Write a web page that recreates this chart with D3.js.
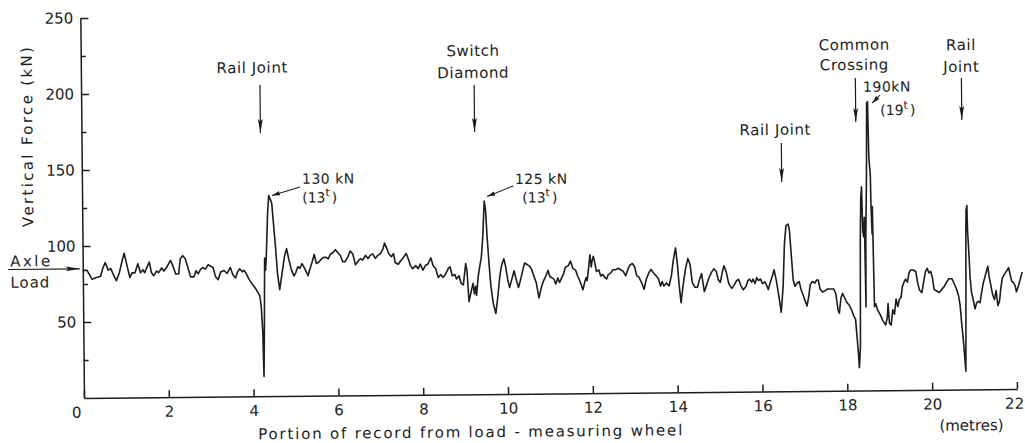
<!DOCTYPE html>
<html>
<head>
<meta charset="utf-8">
<script src="https://cdn.jsdelivr.net/npm/d3@7"></script>
<style>
  body { margin: 0; background: #fff; }
  svg { display: block; font-family: "DejaVu Sans", sans-serif; }
</style>
</head>
<body>
<svg id="chart" width="1025" height="443"></svg>
<script>
// distance along the track (m) and vertical wheel force (kN)
const record = [
  [0,84],[0.10,84],[0.22,78],[0.30,79],[0.42,80],[0.47,85],[0.53,89],[0.60,84],[0.66,85],[0.72,81],
  [0.79,77],[0.86,82],[0.93,90],[0.98,95],[1.05,86],[1.11,79],[1.16,82],[1.23,82],[1.30,88],[1.36,82],
  [1.42,84],[1.46,82],[1.52,86],[1.57,89],[1.62,82],[1.67,80],[1.74,83],[1.79,82],[1.86,85],[1.91,83],
  [1.97,85],[2.01,87],[2.07,90],[2.13,86],[2.19,81],[2.26,81],[2.30,91],[2.36,93],[2.42,91],[2.48,85],
  [2.54,79],[2.62,79],[2.67,83],[2.72,81],[2.78,84],[2.83,85],[2.89,84],[2.96,87],[3.01,86],[3.07,85],
  [3.13,79],[3.19,77],[3.25,82],[3.33,83],[3.40,81],[3.48,85],[3.54,80],[3.60,78],[3.65,82],[3.70,84],
  [3.76,82],[3.80,83],
  [3.85,81],[3.92,77],[3.99,74],[4.07,71],[4.13,68],[4.17,66],[4.20,59],[4.23,43],[4.25,13],[4.27,46],
  [4.29,91],[4.31,83],[4.33,92],[4.37,120],[4.40,132],[4.43,130],[4.47,127],[4.50,116],[4.55,98],[4.59,81],
  [4.64,70],[4.70,81],[4.76,92],[4.81,97],[4.86,90],[4.92,83],[4.98,79],[5.02,81],[5.07,85],[5.12,84],
  [5.17,87],[5.23,84],[5.31,79],[5.35,83],[5.41,88],[5.46,93],[5.51,87],[5.57,88],[5.63,90],[5.68,91],
  [5.74,91],[5.79,90],[5.84,93],[5.90,94],[5.96,96],[6.02,94],[6.08,92],[6.13,88],[6.19,88],[6.25,91],
  [6.31,95],[6.37,93],[6.43,86],[6.49,88],[6.55,90],[6.60,89],[6.67,92],[6.73,90],[6.78,92],[6.84,93],
  [6.90,90],[6.96,92],[7.02,93],[7.08,96],[7.12,100],[7.18,96],[7.22,93],[7.28,91],[7.33,93],[7.37,87],
  [7.44,86],[7.49,88],[7.55,90],
  [7.63,93],[7.67,90],[7.73,85],[7.78,83],[7.85,85],[7.91,83],[7.96,86],[8.02,82],[8.08,85],[8.14,86],
  [8.21,90],[8.26,85],[8.32,83],[8.38,77],[8.44,79],[8.49,77],[8.55,79],[8.62,83],[8.66,84],[8.71,78],
  [8.77,79],[8.81,76],[8.87,78],[8.92,73],[8.97,72],[9.03,86],[9.06,81],[9.10,61],[9.14,66],[9.20,73],
  [9.23,66],[9.26,71],[9.28,65],[9.32,77],[9.36,84],[9.40,90],[9.44,104],[9.48,127],[9.51,121],[9.54,104],
  [9.58,86],[9.62,71],[9.67,60],[9.73,53],[9.78,64],[9.83,77],[9.87,84],[9.93,89],[9.97,84],[10.02,75],
  [10.06,70],[10.11,75],[10.17,81],[10.22,75],[10.27,70],[10.32,75],[10.38,82],[10.42,86],[10.48,85],[10.53,84],
  [10.58,82],[10.64,77],[10.69,73],[10.75,63],[10.81,70],[10.86,74],[10.91,77],[10.97,81],[11.01,77],[11.07,76],
  [11.11,75],[11.15,72],[11.20,76],[11.24,73],[11.29,76],[11.34,79],
  [11.38,83],[11.45,84],[11.50,87],[11.56,82],[11.62,81],[11.67,77],[11.73,73],[11.79,68],[11.84,74],[11.87,76],
  [11.89,74],[11.93,83],[11.96,91],[11.99,83],[12.01,87],[12.04,90],[12.08,85],[12.11,80],[12.17,81],[12.21,77],
  [12.26,78],[12.31,76],[12.35,75],[12.39,78],[12.45,79],[12.50,81],[12.56,81],[12.63,82],[12.68,81],[12.74,80],
  [12.80,77],[12.85,81],[12.90,84],[12.96,85],[13.01,83],[13.06,77],[13.11,76],[13.18,72],[13.23,68],[13.29,75],
  [13.35,79],[13.40,81],[13.45,79],[13.51,77],[13.57,75],[13.62,70],[13.66,73],[13.70,70],[13.76,72],[13.82,70],
  [13.88,77],[13.92,86],[13.98,95],[14.02,85],[14.06,70],[14.10,59],[14.15,70],[14.21,81],[14.27,88],[14.32,84],
  [14.37,72],[14.43,69],[14.49,69],[14.54,74],[14.59,78],[14.65,66],[14.70,70],[14.76,75],[14.83,79],[14.88,81],
  [14.94,79],[14.98,74],[15.03,72],[15.08,79],
  [15.12,83],[15.17,79],[15.23,71],[15.30,68],[15.35,70],[15.41,73],[15.46,74],[15.51,70],[15.57,67],[15.63,69],
  [15.68,73],[15.72,74],[15.77,72],[15.80,74],[15.85,71],[15.89,75],[15.93,73],[15.98,74],[16.02,71],[16.08,72],
  [16.12,70],[16.16,67],[16.20,71],[16.26,76],[16.30,80],[16.35,73],[16.40,64],[16.46,52],[16.51,69],[16.55,97],
  [16.59,109],[16.64,110],[16.67,106],[16.71,89],[16.75,73],[16.79,69],[16.84,71],[16.89,72],[16.93,67],[16.98,63],
  [17.03,59],[17.07,56],[17.11,62],[17.15,70],[17.20,72],[17.26,71],[17.30,73],[17.34,73],[17.38,67],[17.44,65],
  [17.50,66],[17.56,67],[17.63,67],[17.70,67],[17.75,64],[17.80,53],[17.83,51],[17.87,61],[17.91,64],[17.96,61],
  [18.01,58],[18.07,56],[18.12,53],[18.17,49],[18.21,47],[18.24,36],[18.27,25],[18.29,15],[18.32,29],
  [18.34,99],[18.36,127],[18.38,134],[18.40,105],[18.42,101],[18.44,114],[18.46,55],[18.47,99],[18.50,142],[18.52,189],
  [18.54,190],[18.56,153],[18.59,142],[18.60,121],[18.62,103],[18.63,121],[18.65,77],[18.66,55],[18.69,57],[18.73,53],
  [18.79,50],[18.85,46],[18.92,43],[18.96,48],[18.98,57],[19.01,44],[19.05,43],[19.09,53],[19.13,50],[19.17,60],
  [19.21,55],[19.25,60],[19.29,61],[19.32,68],[19.36,71],[19.40,73],[19.44,71],[19.48,77],[19.52,79],[19.58,79],
  [19.64,78],[19.68,71],[19.72,66],[19.78,64],[19.83,72],[19.87,78],[19.91,80],[19.95,77],[19.99,78],[20.03,74],
  [20.07,66],[20.13,65],[20.19,64],[20.25,66],[20.31,68],[20.37,71],[20.42,73],[20.49,73],[20.54,70],[20.60,66],
  [20.65,61],[20.68,55],[20.71,44],[20.74,35],[20.77,24],[20.80,12],[20.82,66],[20.83,103],[20.84,118],[20.86,121],
  [20.87,105],[20.90,88],[20.92,74],[20.95,64],[20.99,59],[21.03,53],[21.07,57],[21.11,58],[21.15,57],[21.19,64],
  [21.23,70],[21.27,74],[21.31,78],[21.34,81],[21.37,74],[21.41,68],[21.45,62],[21.49,59],[21.53,65],[21.57,55],
  [21.61,58],[21.64,66],[21.68,73],[21.74,76],[21.79,78],[21.83,80],[21.86,76],[21.90,71],[21.94,70],[21.98,68],
  [22.01,64],[22.06,68],[22.11,73],[22.15,77]
];

const xTicks = [0, 2, 4, 6, 8, 10, 12, 14, 16, 18, 20, 22];
const yTicks = [50, 100, 150, 200, 250];
const yMinorTicks = [25, 75, 125, 175, 225];

// track features marked by arrows above the trace
const featureNames = [["Rail Joint"], ["Switch", "Diamond"], ["Rail Joint"], ["Common", "Crossing"], ["Rail", "Joint"]];
const featureAt = [4.22, 9.27, 16.5, 18.26, 20.76];

// labelled peaks
const peakKN = ["130 kN", "125 kN", "190kN"];
const peakTonnes = ["13", "13", "19"];
const peakAt = [[4.48, 132], [9.55, 130], [18.65, 189]];

const axleLoad = 85;

const svg = d3.select('#chart');
const ink = '#1c1c1c';

const x = d3.scaleLinear().domain([0, 22]).range([84, 1017]);
const y = d3.scaleLinear().domain([0, 250]).range([398, 18]);

// the printed figure is scanned with a slight tilt
const g = svg.append('g')
  .attr('transform', `rotate(-0.55,${x(0)},${y(0)})`);

// axes
const xAxis = g.append('g')
  .attr('transform', `translate(0,${y(0)})`)
  .call(d3.axisBottom(x).tickValues(xTicks).tickSizeInner(-7).tickSizeOuter(0).tickPadding(9));
xAxis.selectAll('.tick text').filter(d => d === 0).attr('dx', -8);
xAxis.selectAll('.tick text').filter(d => d === 22).attr('dx', -3);

const yAxis = g.append('g')
  .attr('transform', `translate(${x(0)},0)`)
  .call(d3.axisLeft(y).tickValues(yTicks).tickSizeInner(-8).tickSizeOuter(0).tickPadding(7));

const yMinor = g.append('g')
  .attr('transform', `translate(${x(0)},0)`)
  .call(d3.axisLeft(y).tickValues(yMinorTicks).tickSizeInner(-5).tickFormat(''));
yMinor.select('.domain').remove();

g.selectAll('.domain, .tick line').attr('stroke', ink).attr('stroke-width', 1.5);
g.selectAll('.tick text')
  .attr('fill', ink)
  .style('font-size', '15px')
  .style('font-family', '"DejaVu Sans", sans-serif');

// axis titles
g.append('text')
  .attr('transform', `translate(35,${y(172)}) rotate(-90)`)
  .attr('text-anchor', 'middle')
  .attr('textLength', 180)
  .attr('lengthAdjust', 'spacing')
  .attr('fill', ink)
  .style('font-size', '15px')
  .text('Vertical Force (kN)');

g.append('text')
  .attr('x', x(9.1))
  .attr('y', 441)
  .attr('text-anchor', 'middle')
  .attr('textLength', 424)
  .attr('lengthAdjust', 'spacing')
  .attr('fill', ink)
  .style('font-size', '15px')
  .text('Portion of record from load - measuring wheel');

g.append('text')
  .attr('x', x(20.92))
  .attr('y', 439)
  .attr('text-anchor', 'middle')
  .attr('fill', ink)
  .style('font-size', '15px')
  .text('(metres)');

// arrow heads
const defs = svg.append('defs');
defs.append('marker')
  .attr('id', 'head')
  .attr('viewBox', '0 0 14 6')
  .attr('refX', 14).attr('refY', 3)
  .attr('markerWidth', 14).attr('markerHeight', 6)
  .attr('markerUnits', 'userSpaceOnUse')
  .attr('orient', 'auto')
  .append('path')
  .attr('d', 'M0,0.6L14,3L0,5.4L2.5,3Z')
  .attr('fill', ink);
defs.append('marker')
  .attr('id', 'small')
  .attr('viewBox', '0 0 8 5')
  .attr('refX', 8).attr('refY', 2.5)
  .attr('markerWidth', 8).attr('markerHeight', 5)
  .attr('markerUnits', 'userSpaceOnUse')
  .attr('orient', 'auto')
  .append('path')
  .attr('d', 'M0,0.3L8,2.5L0,4.7Z')
  .attr('fill', ink);

// axle load marker
const axle = g.append('g').attr('fill', ink).style('font-size', '15px');
axle.append('text').attr('x', x(-1.71)).attr('y', y(axleLoad + 2)).attr('letter-spacing', 2.5).text('Axle');
axle.append('text').attr('x', x(-1.71)).attr('y', y(axleLoad - 12)).attr('letter-spacing', 1).text('Load');
axle.append('line')
  .attr('x1', x(-1.76)).attr('x2', x(-0.07))
  .attr('y1', y(axleLoad)).attr('y2', y(axleLoad))
  .attr('stroke', ink).attr('stroke-width', 1.2)
  .attr('marker-end', 'url(#head)');

// the force trace
const line = d3.line()
  .x(d => x(d[0]))
  .y(d => y(d[1]));

g.append('path')
  .datum(record)
  .attr('fill', 'none')
  .attr('stroke', ink)
  .attr('stroke-width', 1.6)
  .attr('stroke-linejoin', 'round')
  .attr('d', line);

// feature callouts: text position (m, kN baselines) and arrow span (kN)
const calloutLayout = [
  { tx: 4.04, ty: [212.8], top: 204.8, tip: 173.2 },
  { tx: 9.25, ty: [222.6, 208.1], top: 203.5, tip: 172.6 },
  { tx: 16.36, ty: [168.7], top: 163.4, tip: 137.7 },
  { tx: 18.24, ty: [224.1, 210.9], top: 205.7, tip: 176.7 },
  { tx: 20.76, ty: [223.4, 209.0], top: 205.0, tip: 177.4 }
];

featureNames.forEach((lines, i) => {
  const L = calloutLayout[i];
  const c = g.append('g');
  lines.forEach((t, j) => {
    c.append('text')
      .attr('x', x(L.tx))
      .attr('y', y(L.ty[j]))
      .attr('text-anchor', 'middle')
      .attr('letter-spacing', 0.6)
      .attr('fill', ink)
      .style('font-size', '15px')
      .text(t);
  });
  c.append('line')
    .attr('x1', x(featureAt[i])).attr('x2', x(featureAt[i]))
    .attr('y1', y(L.top)).attr('y2', y(L.tip))
    .attr('stroke', ink).attr('stroke-width', 1.2)
    .attr('marker-end', 'url(#head)');
});

// peak labels: text anchor (m, kN) and leader start
const peakLayout = [
  { tx: 5.19, ty: 139.5, tx2: 5.19, ty2: 127.2, from: [5.14, 137.4] },
  { tx: 10.21, ty: 138.0, tx2: 10.38, ty2: 125.8, from: [10.17, 136.8] },
  { tx: 18.44, ty: 196.5, tx2: 18.84, ty2: 181.1, from: [18.84, 194.3] }
];

peakKN.forEach((lab, i) => {
  const L = peakLayout[i];
  const p = g.append('g').attr('fill', ink).style('font-size', '14px');
  p.append('text').attr('x', x(L.tx)).attr('y', y(L.ty)).attr('letter-spacing', 0.5).text(lab);
  const t2 = p.append('text').attr('x', x(L.tx2)).attr('y', y(L.ty2));
  t2.append('tspan').text('(' + peakTonnes[i]);
  t2.append('tspan').attr('dy', -6).style('font-size', '11px').text('t');
  t2.append('tspan').attr('dy', 6).attr('dx', 2).text(')');
  p.append('line')
    .attr('x1', x(L.from[0])).attr('y1', y(L.from[1]))
    .attr('x2', x(peakAt[i][0])).attr('y2', y(peakAt[i][1]))
    .attr('stroke', ink).attr('stroke-width', 1)
    .attr('marker-end', 'url(#small)');
});
</script>
</body>
</html>
